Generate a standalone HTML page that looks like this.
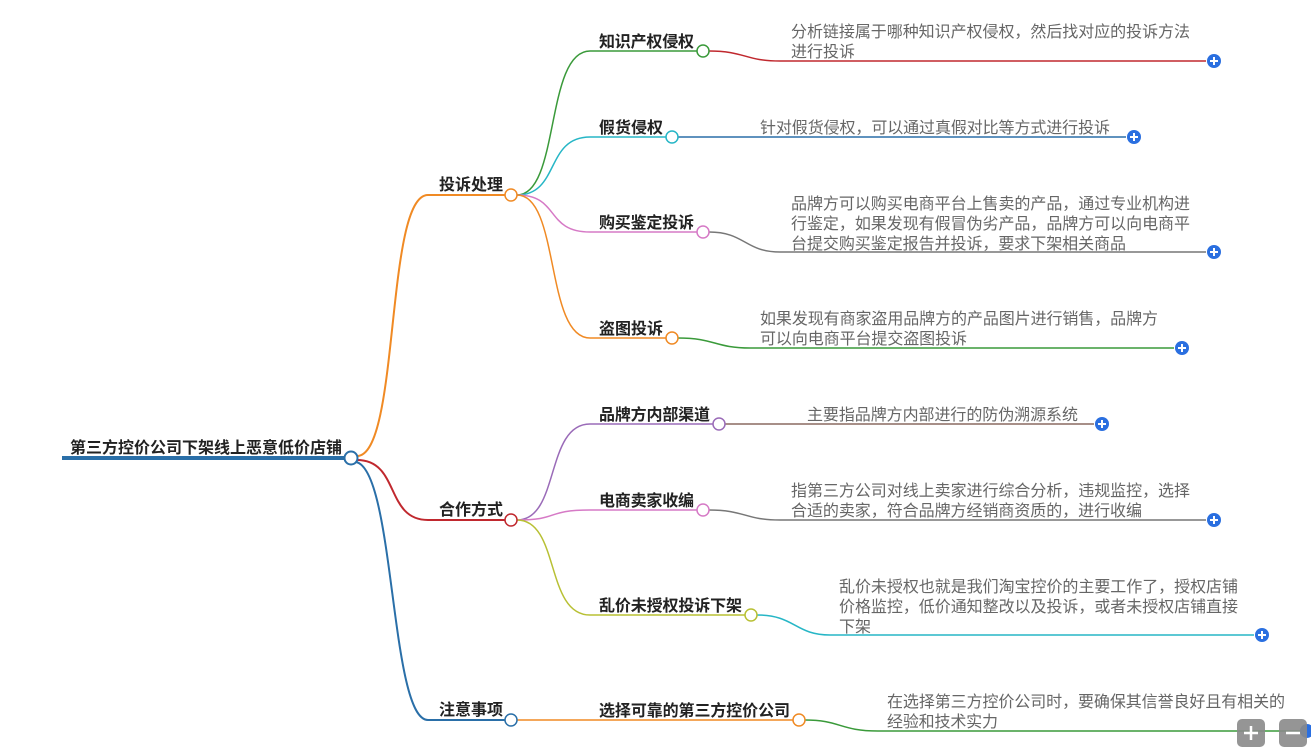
<!DOCTYPE html>
<html><head><meta charset="utf-8"><style>
html,body{margin:0;padding:0;background:#fff;width:1311px;height:751px;overflow:hidden}
svg{display:block}
text{font-family:"Liberation Sans","Noto Sans CJK SC",sans-serif;font-size:16px}
.b{font-weight:bold;fill:#222}
.d{fill:#666}
</style></head><body>
<svg width="1311" height="751" viewBox="0 0 1311 751" fill="none">
<!-- root -->
<line x1="62" y1="458" x2="345" y2="458" stroke="#2a6fa8" stroke-width="4"/>
<text class="b" x="70" y="453" textLength="272">第三方控价公司下架线上恶意低价店铺</text>
<!-- level1 curves -->
<path d="M357 456 C400 456 385 195 428 195 L505 195" stroke="#f08a24" stroke-width="2"/>
<path d="M357 460 C400 460 385 520 428 520 L505 520" stroke="#c0282e" stroke-width="2"/>
<path d="M356 462 C395 470 390 720 428 720 L505 720" stroke="#2a6fa8" stroke-width="2"/>
<circle cx="351" cy="458" r="6.5" fill="#fff" stroke="#2a6fa8" stroke-width="2"/>
<text class="b" x="439" y="190" textLength="64">投诉处理</text>
<text class="b" x="439" y="515" textLength="64">合作方式</text>
<text class="b" x="439" y="715" textLength="64">注意事项</text>
<!-- level2 from 投诉处理 -->
<path d="M517 195 C560 195 545 51 590 51 L697 51" stroke="#3a9a3a" stroke-width="1.5"/>
<path d="M517 195 C560 195 545 137 590 137 L666 137" stroke="#26b6c6" stroke-width="1.5"/>
<path d="M517 195 C560 195 545 232 590 232 L697 232" stroke="#d67ac6" stroke-width="1.5"/>
<path d="M517 195 C560 195 545 338 590 338 L666 338" stroke="#f08a24" stroke-width="1.5"/>
<circle cx="511" cy="195" r="6" fill="#fff" stroke="#f08a24" stroke-width="1.5"/>
<!-- level2 from 合作方式 -->
<path d="M517 520 C560 520 545 424 590 424 L713 424" stroke="#9a6bb8" stroke-width="1.5"/>
<path d="M517 520 C560 520 545 510 590 510 L697 510" stroke="#d67ac6" stroke-width="1.5"/>
<path d="M517 520 C560 520 545 615 590 615 L745 615" stroke="#b8c034" stroke-width="1.5"/>
<circle cx="511" cy="520" r="6" fill="#fff" stroke="#c0282e" stroke-width="1.5"/>
<!-- level2 from 注意事项 -->
<path d="M517 720 L793 720" stroke="#f08a24" stroke-width="1.5"/>
<circle cx="511" cy="720" r="6" fill="#fff" stroke="#2a6fa8" stroke-width="1.5"/>

<text class="b" x="599" y="47" textLength="95">知识产权侵权</text>
<text class="b" x="599" y="133" textLength="64">假货侵权</text>
<text class="b" x="599" y="228" textLength="95">购买鉴定投诉</text>
<text class="b" x="599" y="334" textLength="64">盗图投诉</text>
<text class="b" x="599" y="420" textLength="111">品牌方内部渠道</text>
<text class="b" x="599" y="506" textLength="95">电商卖家收编</text>
<text class="b" x="599" y="611" textLength="143">乱价未授权投诉下架</text>
<text class="b" x="599" y="716" textLength="191">选择可靠的第三方控价公司</text>

<!-- detail connectors -->
<path d="M709 51 C745 51 745 61 780 61 L1206 61" stroke="#c0282e" stroke-width="1.5"/>
<path d="M678 137 L1126 137" stroke="#2a6fa8" stroke-width="1.5"/>
<path d="M709 232 C745 232 745 252 780 252 L1206 252" stroke="#777" stroke-width="1.5"/>
<path d="M678 338 C715 338 715 348 750 348 L1174 348" stroke="#3a9a3a" stroke-width="1.5"/>
<path d="M725 424 L1094 424" stroke="#8a6a60" stroke-width="1.5"/>
<path d="M709 510 C745 510 745 520 780 520 L1206 520" stroke="#777" stroke-width="1.5"/>
<path d="M757 615 C795 615 795 635 830 635 L1254 635" stroke="#26b6c6" stroke-width="1.5"/>
<path d="M805 720 C840 720 840 731 878 731 L1311 731" stroke="#3a9a3a" stroke-width="1.5"/>

<circle cx="703" cy="51" r="6" fill="#fff" stroke="#3a9a3a" stroke-width="1.5"/>
<circle cx="672" cy="137" r="6" fill="#fff" stroke="#26b6c6" stroke-width="1.5"/>
<circle cx="703" cy="232" r="6" fill="#fff" stroke="#d67ac6" stroke-width="1.5"/>
<circle cx="672" cy="338" r="6" fill="#fff" stroke="#f08a24" stroke-width="1.5"/>
<circle cx="719" cy="424" r="6" fill="#fff" stroke="#9a6bb8" stroke-width="1.5"/>
<circle cx="703" cy="510" r="6" fill="#fff" stroke="#d67ac6" stroke-width="1.5"/>
<circle cx="751" cy="615" r="6" fill="#fff" stroke="#b8c034" stroke-width="1.5"/>
<circle cx="799" cy="720" r="6" fill="#fff" stroke="#f08a24" stroke-width="1.5"/>

<!-- detail text -->
<text class="d" x="791" y="37" textLength="399">分析链接属于哪种知识产权侵权，然后找对应的投诉方法</text>
<text class="d" x="791" y="57" textLength="64">进行投诉</text>
<text class="d" x="760" y="133" textLength="350">针对假货侵权，可以通过真假对比等方式进行投诉</text>
<text class="d" x="791" y="209" textLength="399">品牌方可以购买电商平台上售卖的产品，通过专业机构进</text>
<text class="d" x="791" y="229" textLength="399">行鉴定，如果发现有假冒伪劣产品，品牌方可以向电商平</text>
<text class="d" x="791" y="249" textLength="335">台提交购买鉴定报告并投诉，要求下架相关商品</text>
<text class="d" x="760" y="324" textLength="398">如果发现有商家盗用品牌方的产品图片进行销售，品牌方</text>
<text class="d" x="760" y="344" textLength="207">可以向电商平台提交盗图投诉</text>
<text class="d" x="807" y="420" textLength="271">主要指品牌方内部进行的防伪溯源系统</text>
<text class="d" x="791" y="496" textLength="399">指第三方公司对线上卖家进行综合分析，违规监控，选择</text>
<text class="d" x="791" y="516" textLength="351">合适的卖家，符合品牌方经销商资质的，进行收编</text>
<text class="d" x="839" y="592" textLength="399">乱价未授权也就是我们淘宝控价的主要工作了，授权店铺</text>
<text class="d" x="839" y="612" textLength="399">价格监控，低价通知整改以及投诉，或者未授权店铺直接</text>
<text class="d" x="839" y="632" textLength="32">下架</text>
<text class="d" x="887" y="707" textLength="398">在选择第三方控价公司时，要确保其信誉良好且有相关的</text>
<text class="d" x="887" y="727" textLength="111">经验和技术实力</text>

<!-- plus buttons -->
<g fill="#2a6fe0">
<circle cx="1214" cy="61" r="7"/><circle cx="1134" cy="137" r="7"/><circle cx="1214" cy="252" r="7"/>
<circle cx="1182" cy="348" r="7"/><circle cx="1102" cy="424" r="7"/><circle cx="1214" cy="520" r="7"/>
<circle cx="1262" cy="635" r="7"/><circle cx="1307" cy="731" r="7"/>
</g>
<g stroke="#fff" stroke-width="2">
<path d="M1210 61h8M1214 57v8M1130 137h8M1134 133v8M1210 252h8M1214 248v8M1178 348h8M1182 344v8M1098 424h8M1102 420v8M1210 520h8M1214 516v8M1258 635h8M1262 631v8"/>
</g>
<!-- zoom buttons -->
<rect x="1237" y="719" width="28" height="28" rx="5" fill="#8a8a8a" fill-opacity="0.9"/>
<rect x="1279" y="719" width="28" height="28" rx="5" fill="#8a8a8a" fill-opacity="0.9"/>
<path d="M1244 733h14M1251 726v14M1286 733h14" stroke="#fff" stroke-width="2.5"/>
</svg>
</body></html>
